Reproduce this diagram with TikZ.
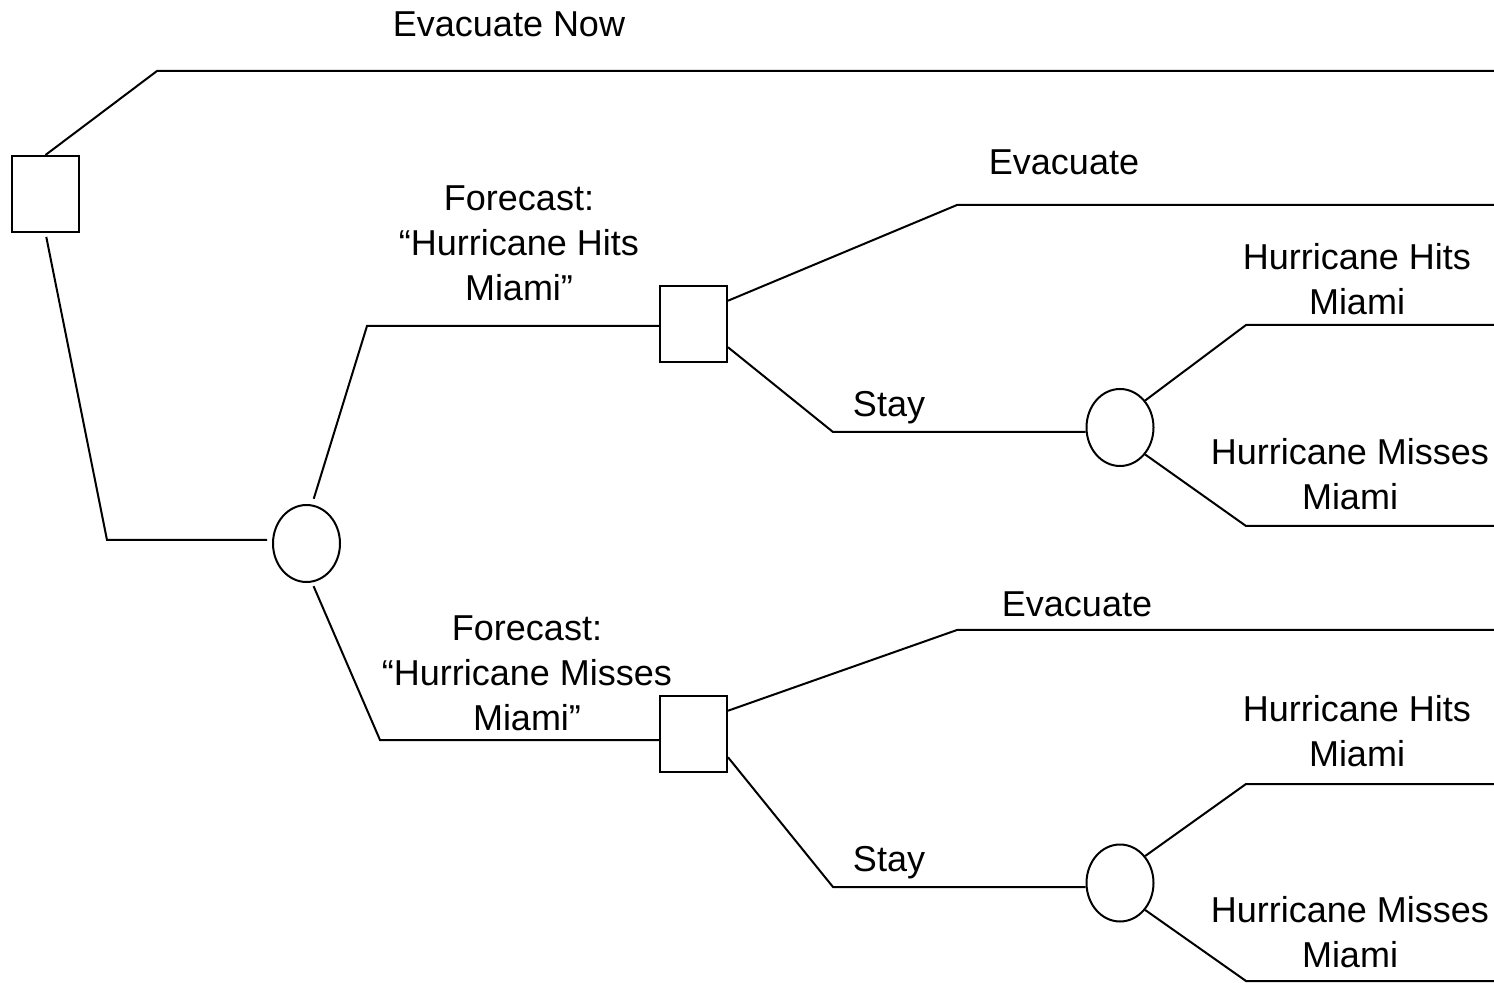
\documentclass[tikz,border=0pt]{standalone}
\usepackage{fontspec}
\setmainfont{Liberation Sans}
\usetikzlibrary{shapes.geometric}
\begin{document}
\begin{tikzpicture}[x=0.5pt,y=-0.5pt,line width=1pt,
  choice/.style={draw=black,rectangle,minimum width=33.5pt,minimum height=38pt,inner sep=0pt},
  chance/.style={draw=black,ellipse,minimum width=33.5pt,minimum height=38.5pt,inner sep=0pt},
  lbl/.style={font=\fontsize{18}{22.5}\selectfont,align=center,inner sep=0pt}]
\useasboundingbox (0,0) rectangle (1494,983);
\node [choice] (d0) at (45.5,194) {};
\node [chance] (f0) at (306.5,543.5) {};
\node [choice] (d1) at (693.5,324) {};
\node [choice] (d2) at (693.5,734) {};
\node [chance] (h1) at (1120,427.5) {};
\node [chance] (h2) at (1120,883) {};
\coordinate (rim) at (1494,0);
\coordinate (a0) at (157,71);
\coordinate (b0) at (107,540);
\coordinate (b1) at (367,326);
\coordinate (b2) at (380,740);
\coordinate (e1) at (957,205);
\coordinate (s1) at (833,432);
\coordinate (y1) at (1246,325);
\coordinate (n1) at (1246,526);
\coordinate (e2) at (957,630);
\coordinate (s2) at (833,887);
\coordinate (y2) at (1246,784);
\coordinate (n2) at (1246,981);
\draw [black] (d0.north) -- (a0) -- (a0 -| rim);
\draw [black, shorten <=2pt, shorten >=2.5pt] (d0.south) -- (b0) -- (b0 -| f0.west);
\draw [black, shorten <=3pt] (f0.82) -- (b1) -- (b1 -| d1.west);
\draw [black, shorten <=2pt] (f0.-82) -- (b2) -- (b2 -| d2.west);
\draw [black] (d1.34) -- (e1) -- (e1 -| rim);
\draw [black] (d1.-34) -- (s1) -- (s1 -| h1.west);
\draw [black] (h1.47) -- (y1) -- (y1 -| rim);
\draw [black] (h1.-47) -- (n1) -- (n1 -| rim);
\draw [black] (d2.34) -- (e2) -- (e2 -| rim);
\draw [black] (d2.-34) -- (s2) -- (s2 -| h2.west);
\draw [black] (h2.47) -- (y2) -- (y2 -| rim);
\draw [black] (h2.-47) -- (n2) -- (n2 -| rim);
\node [lbl, anchor=base] (tnow) at (509,37) {Evacuate Now};
\node [lbl] (tf1) at (519,243) {Forecast:\\“Hurricane Hits\\Miami”};
\node [lbl, anchor=base] (te1) at (1064,175) {Evacuate};
\node [lbl, anchor=base] (ts1) at (889,417) {Stay};
\node [lbl] (th1) at (1357,279) {Hurricane Hits\\Miami};
\node [lbl] (tm1) at (1350,474) {Hurricane Misses\\Miami};
\node [lbl] (tf2) at (527,673) {Forecast:\\“Hurricane Misses\\Miami”};
\node [lbl, anchor=base] (te2) at (1077,617) {Evacuate};
\node [lbl, anchor=base] (ts2) at (889,871) {Stay};
\node [lbl] (th2) at (1357,731) {Hurricane Hits\\Miami};
\node [lbl] (tm2) at (1350,932) {Hurricane Misses\\Miami};
\end{tikzpicture}
\end{document}
